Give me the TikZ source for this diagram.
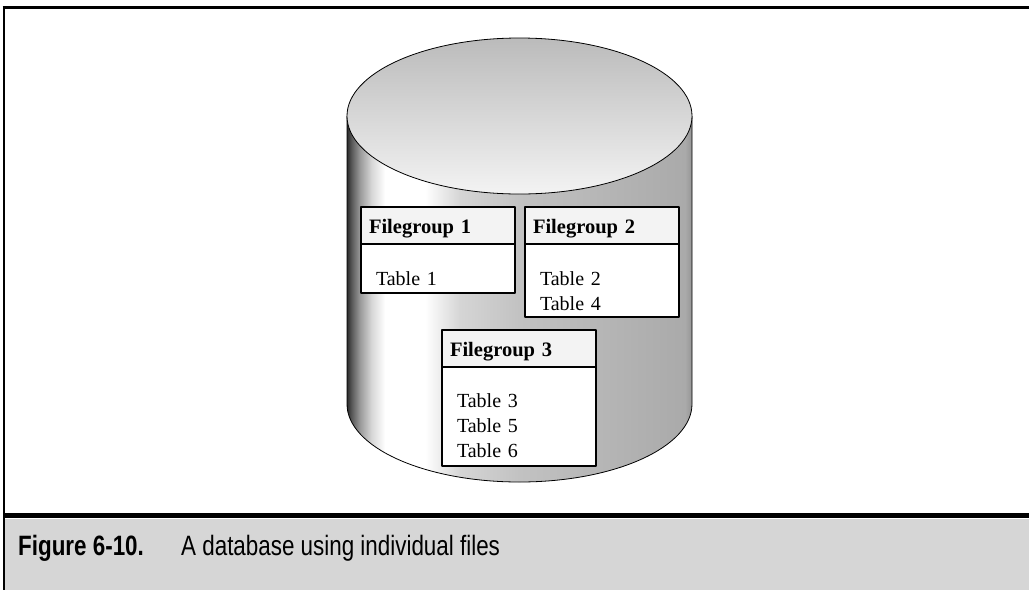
\documentclass[tikz,border=0pt]{standalone}
\usepackage{fontspec}
\setmainfont{Liberation Serif}
\newfontfamily\capfont{Liberation Sans}
\usetikzlibrary{positioning}
\definecolor{capgray}{HTML}{D6D6D6}
\definecolor{headgray}{HTML}{F3F3F3}
\definecolor{lidtop}{HTML}{BBBBBB}
\definecolor{lidbot}{HTML}{F3F3F3}
\definecolor{sideA}{HTML}{2A2A2A}
\definecolor{sideB}{HTML}{5A5A5A}
\definecolor{sideC}{HTML}{9A9A9A}
\definecolor{sideD}{HTML}{D8D8D8}
\definecolor{sideE}{HTML}{D5D5D5}
\definecolor{sideF}{HTML}{C2C2C2}
\definecolor{sideG}{HTML}{B3B3B3}
\definecolor{sideH}{HTML}{AAAAAA}
\definecolor{sideI}{HTML}{959595}
% side of the drum, dark rim on the left, highlight, then grey
\pgfdeclarehorizontalshading{drumside}{100bp}{
  color(0bp)=(sideA); color(25bp)=(sideA); color(25.7bp)=(sideB);
  color(26.9bp)=(sideC); color(28.6bp)=(sideD); color(30.5bp)=(white);
  color(36.3bp)=(white); color(41.4bp)=(sideE); color(50bp)=(sideF);
  color(64.5bp)=(sideG); color(74bp)=(sideH); color(75bp)=(sideI);
  color(100bp)=(sideI)}

\begin{document}
\begin{tikzpicture}[x=1pt, y=-1pt, line join=round,
  fghead/.style={draw, line width=2pt, fill=headgray, anchor=north west,
    outer sep=0pt, inner xsep=8pt, inner ysep=0pt, text width=138pt,
    align=left, minimum height=37pt, text height=17pt, text depth=2pt,
    font=\bfseries\fontsize{20.5}{24}\selectfont},
  fgbody/.style={draw, line width=2pt, fill=white, anchor=north,
    outer sep=0pt, inner xsep=15pt, inner ysep=4pt, text width=124pt,
    align=left, text height=37pt, font=\fontsize{20}{25}\selectfont},
  captext/.style={anchor=base west, inner sep=0pt,
    font=\capfont\fontsize{28}{30}\selectfont}]
  \useasboundingbox (0,0) rectangle (1029,590);

  % frame and caption strip
  \fill[capgray] (4,518.5) rectangle (1029,590);
  \draw[line width=3pt] (2.5,7.5) -- (1029,7.5);
  \draw[line width=2.5pt] (4,6) -- (4,590);
  \draw[line width=5.5pt] (4,515.5) -- (1029,515.5);

  % the drum
  \shade[shading=drumside] (347,116) -- (347,404)
    .. controls (347,447.1) and (424.2,482) .. (519.5,482)
    .. controls (614.8,482) and (692,447.1) .. (692,404)
    -- (692,116) -- cycle;
  \draw[line width=0.8pt] (347,116) -- (347,404)
    .. controls (347,447.1) and (424.2,482) .. (519.5,482)
    .. controls (614.8,482) and (692,447.1) .. (692,404)
    -- (692,116);
  \shade[top color=lidtop, bottom color=lidbot, draw=black, line width=0.8pt]
    (519.5,116) ellipse [x radius=172.5, y radius=78];

  % filegroups
  \node[fghead] (fg1hd) at (361,207) {Filegroup 1};
  \node[fgbody, text depth=4pt, below=0pt of fg1hd] (fg1) {Table 1};
  \node[fghead, right=10pt of fg1hd] (fg2hd) {Filegroup 2};
  \node[fgbody, text depth=28pt, below=0pt of fg2hd] (fg2) {Table 2\\Table 4};
  \node[fghead] (fg3hd) at (442,330) {Filegroup 3};
  \node[fgbody, text height=36pt, text depth=55pt, below=0pt of fg3hd] (fg3)
    {Table 3\\Table 5\\Table 6};

  % caption
  \node[captext] (fignum) at (18,555) {\bfseries\scalebox{0.8}[1]{Figure 6-10.}};
  \node[captext] (figtext) at (181,555) {\scalebox{0.8}[1]{A database using individual files}};
\end{tikzpicture}
\end{document}
